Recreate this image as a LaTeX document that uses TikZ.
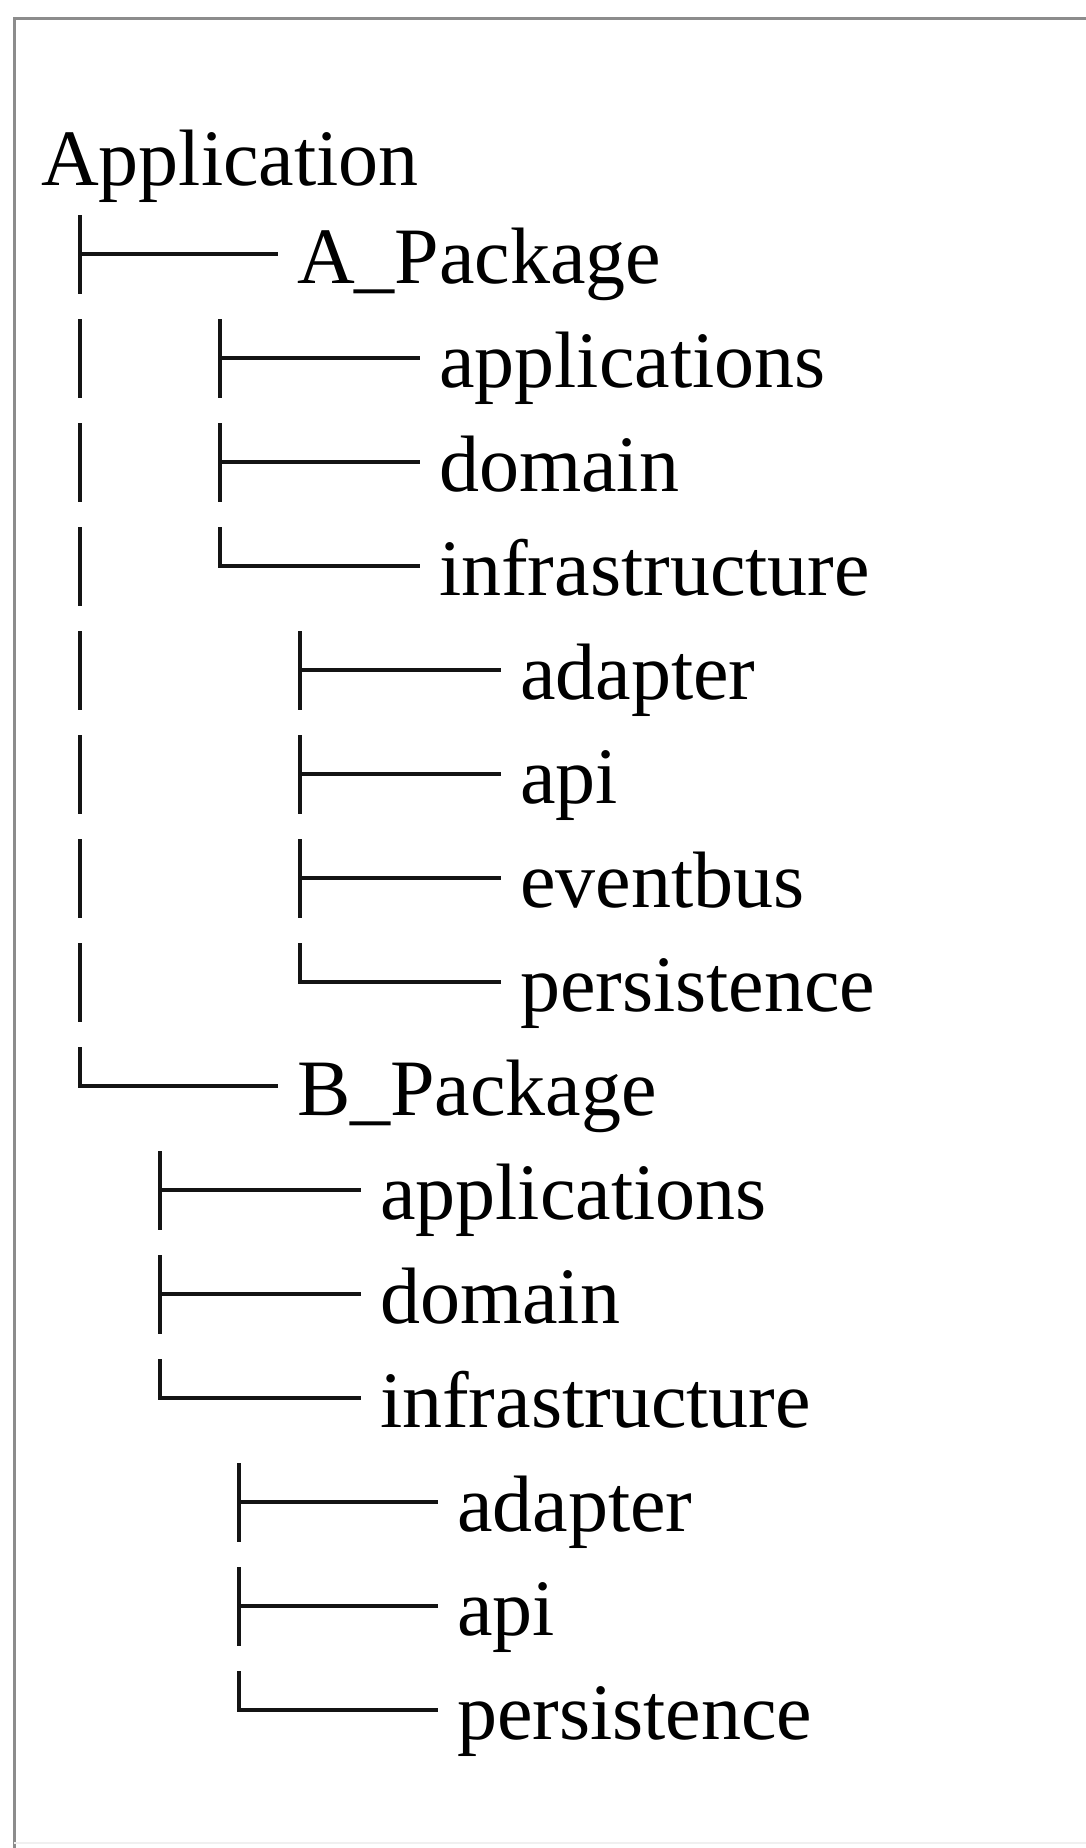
\documentclass[tikz,border=0pt]{standalone}
\usepackage{fontspec}
\setmainfont{Liberation Serif}
\begin{document}
\begin{tikzpicture}[x=0.5pt,y=-0.5pt,
  entry/.style={anchor=west, inner sep=0pt, outer sep=0pt,
    text height=34.5pt, text depth=5.5pt,
    font=\fontsize{40pt}{48pt}\selectfont},
  branch/.style={line width=1.8pt, black!92, line cap=rect, shorten >=10.4pt},
  rail/.style={line width=1.8pt, black!92, dash pattern=on 39.5pt off 12.5pt},
  frame/.style={line width=1.5pt, black!45}]
\useasboundingbox (0,0) rectangle (1086,1848);

% page frame
\draw[frame] (14,1848) -- (14,18) -- (1086,18);
\draw[line width=1pt, black!6] (14,1843) -- (1086,1843);

% columns of the tree guides
\coordinate (c0)  at (80,0);
\coordinate (ca)  at (220,0);
\coordinate (cai) at (300,0);
\coordinate (cb)  at (160,0);
\coordinate (cbi) at (239,0);

% entries
\node[entry, anchor=base west] (root) at (41,185) {Application};
\node[entry] (apkg) at (297,254)  {A\_Package};
\node[entry] (aapp) at (439,358)  {applications};
\node[entry] (adom) at (439,462)  {domain};
\node[entry] (ainf) at (439,566)  {infrastructure};
\node[entry] (aada) at (520,670)  {adapter};
\node[entry] (aapi) at (520,774)  {api};
\node[entry] (aevt) at (520,878)  {eventbus};
\node[entry] (aper) at (520,982)  {persistence};
\node[entry] (bpkg) at (297,1086) {B\_Package};
\node[entry] (bapp) at (380,1190) {applications};
\node[entry] (bdom) at (380,1294) {domain};
\node[entry] (binf) at (380,1398) {infrastructure};
\node[entry] (bada) at (457,1502) {adapter};
\node[entry] (bapi) at (457,1606) {api};
\node[entry] (bper) at (457,1710) {persistence};

% vertical guides, one dash per text line
\draw[rail] ([yshift=19.5pt]c0 |- apkg.west)  -- (c0 |- bpkg.west);
\draw[rail] ([yshift=19.5pt]ca |- aapp.west)  -- (ca |- ainf.west);
\draw[rail] ([yshift=19.5pt]cai |- aada.west) -- (cai |- aper.west);
\draw[rail] ([yshift=19.5pt]cb |- bapp.west)  -- (cb |- binf.west);
\draw[rail] ([yshift=19.5pt]cbi |- bada.west) -- (cbi |- bper.west);

% horizontal branches
\foreach \n in {apkg,bpkg}
  \draw[branch] (c0 |- \n.west) -- (\n.west);
\foreach \n in {aapp,adom,ainf}
  \draw[branch] (ca |- \n.west) -- (\n.west);
\foreach \n in {aada,aapi,aevt,aper}
  \draw[branch] (cai |- \n.west) -- (\n.west);
\foreach \n in {bapp,bdom,binf}
  \draw[branch] (cb |- \n.west) -- (\n.west);
\foreach \n in {bada,bapi,bper}
  \draw[branch] (cbi |- \n.west) -- (\n.west);
\end{tikzpicture}
\end{document}
